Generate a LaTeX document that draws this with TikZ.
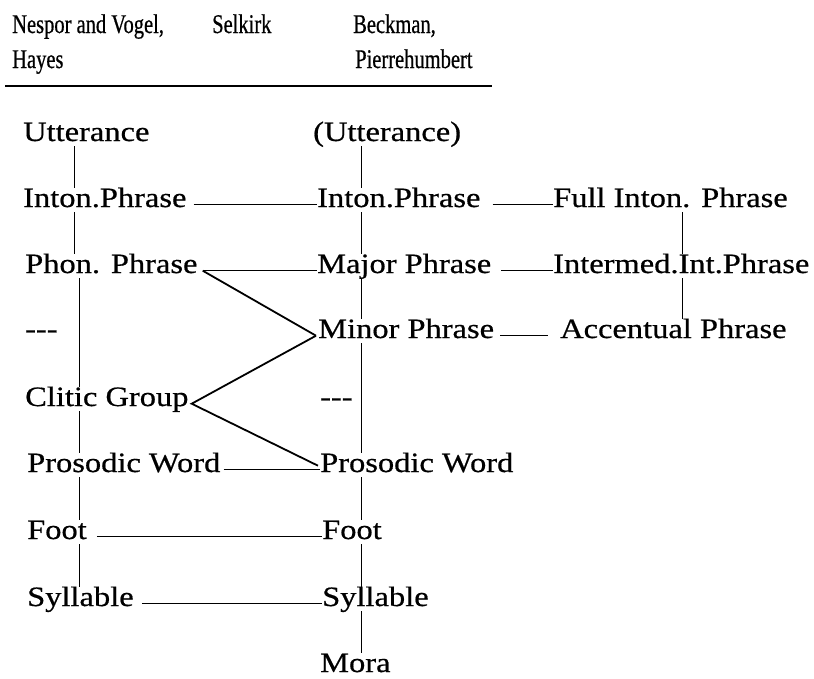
\documentclass[tikz,border=0pt]{standalone}
\usepackage{fontspec}
\setmainfont{Liberation Serif}
\newfontfamily\bodyf[FakeStretch=1.16,FakeBold=0.6]{Liberation Serif}
\newfontfamily\headf[FakeStretch=0.76,FakeBold=0.6]{Liberation Serif}
\usetikzlibrary{calc}
\begin{document}
\begin{tikzpicture}[x=1pt,y=-1pt,
  lbl/.style={anchor=base west, inner sep=0pt, font=\bodyf\fontsize{28}{28}\selectfont, text height=19pt, text depth=5pt},
  hd/.style={anchor=base west, inner sep=0pt, font=\headf\fontsize{27}{27}\selectfont},
  conn/.style={line width=1pt},
  diag/.style={line width=1.8pt},
  rulel/.style={line width=1.8pt}]
\useasboundingbox (0,0) rectangle (814,678);
% header
\node[hd] (h1) at (12,33) {Nespor and Vogel,};
\node[hd] (h1b) at (12,68) {Hayes};
\node[hd] (h2) at (212,33) {Selkirk};
\node[hd] (h3) at (353,33) {Beckman,};
\node[hd] (h3b) at (355,68) {Pierrehumbert};
\coordinate (rl) at (5,86);
\coordinate (rr) at (492,86);
\draw[rulel] (rl) -- (rr);
% column 1
\node[lbl] (a1) at (23,141) {Utterance};
\node[lbl] (a2) at (23,207) {Inton.Phrase};
\node[lbl] (a3) at (25,273) {Phon. Phrase};
\node[lbl] (a4) at (25,338) {-{}-{}-};
\node[lbl] (a5) at (25,406) {Clitic Group};
\node[lbl] (a6) at (27,472) {Prosodic Word};
\node[lbl] (a7) at (27,539) {Foot};
\node[lbl] (a8) at (27,606) {Syllable};
% column 2
\node[lbl] (b1) at (313,141) {(Utterance)};
\node[lbl] (b2) at (317,207) {Inton.Phrase};
\node[lbl] (b3) at (317,273) {Major Phrase};
\node[lbl] (b4) at (318,338) {Minor Phrase};
\node[lbl] (b5) at (320,406) {-{}-{}-};
\node[lbl] (b6) at (320,472) {Prosodic Word};
\node[lbl] (b7) at (322,539) {Foot};
\node[lbl] (b8) at (322,606) {Syllable};
\node[lbl] (b9) at (320,672) {Mora};
% column 3
\node[lbl] (c2) at (553,207) {Full Inton. Phrase};
\node[lbl] (c3) at (553,273) {Intermed.Int.Phrase};
\node[lbl] (c4) at (560,338) {Accentual Phrase};
% column x positions
\coordinate (xa) at (74,0);
\coordinate (xb) at (79,0);
\coordinate (xc) at (361,0);
\coordinate (xd) at (682,0);
% verticals column 1
\draw[conn] (a1.south -| xa) -- (a2.north -| xa);
\draw[conn] (a2.south -| xa) -- (a3.north -| xa);
\draw[conn] (a3.south -| xb) -- (a5.north -| xb);
\draw[conn] (a5.south -| xb) -- (a6.north -| xb);
\draw[conn] (a6.south -| xb) -- (a7.north -| xb);
\draw[conn] (a7.south -| xb) -- (a8.north -| xb);
% verticals column 2
\draw[conn] (b1.south -| xc) -- (b2.north -| xc);
\draw[conn] (b2.south -| xc) -- (b3.north -| xc);
\draw[conn] (b3.south -| xc) -- (b4.north -| xc);
\draw[conn] (b4.south -| xc) -- (b6.north -| xc);
\draw[conn] (b6.south -| xc) -- (b7.north -| xc);
\draw[conn] (b7.south -| xc) -- (b8.north -| xc);
\draw[conn] (b8.south -| xc) -- (b9.north -| xc);
% verticals column 3
\draw[conn] (c2.south -| xd) -- (c3.north -| xd);
\draw[conn] (c3.south -| xd) -- (c4.north -| xd);
% horizontals
\draw[conn] ([xshift=7pt]a2.mid east) -- (b2.mid west);
\draw[conn] ([xshift=5pt]a3.mid east) -- (b3.mid west);
\draw[conn] ([xshift=3pt]a6.mid east) -- (b6.mid west);
\draw[conn] ([xshift=10pt]a7.mid east) -- (b7.mid west);
\draw[conn] ([xshift=8pt]a8.mid east) -- (b8.mid west);
\draw[conn] ([xshift=12pt]b2.mid east) -- (c2.mid west);
\draw[conn] ([xshift=10pt]b3.mid east) -- (c3.mid west);
\draw[conn] ([xshift=6pt]b4.mid east) -- ([xshift=-12pt]c4.mid west);
% diagonals
\draw[diag] ([xshift=5pt]a3.mid east) -- ([xshift=-2pt]b4.mid west);
\draw[diag] ([xshift=-2pt]b4.mid west) -- ([xshift=3pt]a5.mid east) -- ([xshift=-2pt,yshift=4pt]b6.mid west);
\end{tikzpicture}
\end{document}
